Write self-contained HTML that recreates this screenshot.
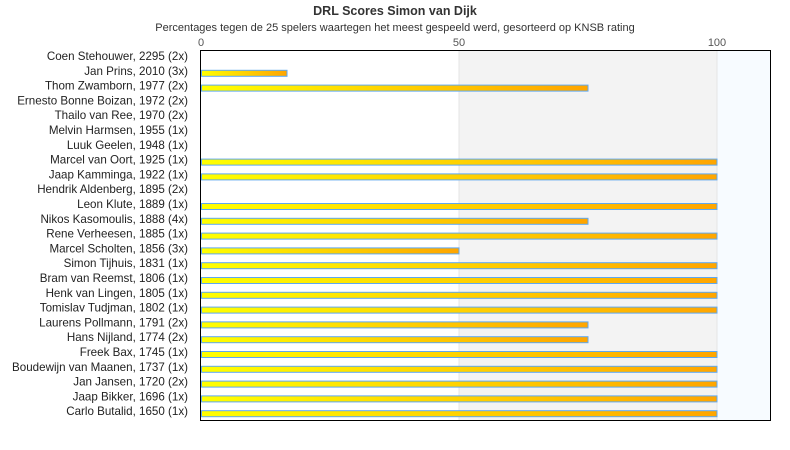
<!DOCTYPE html>
<html><head><meta charset="utf-8"><style>
html,body{margin:0;padding:0;background:#fff;}
svg{display:block;font-family:"Liberation Sans","DejaVu Sans",sans-serif;}
</style></head><body>
<svg width="790" height="450" xmlns="http://www.w3.org/2000/svg">
<defs>
<linearGradient id="g" x1="0" x2="1" y1="0" y2="0"><stop offset="0" stop-color="#ffff00"/><stop offset="1" stop-color="#ffa500"/></linearGradient>
</defs>
<text x="395" y="15" text-anchor="middle" font-size="12.5" font-weight="bold" fill="#333">DRL Scores Simon van Dijk</text>
<text x="395" y="31" text-anchor="middle" font-size="11" fill="#333">Percentages tegen de 25 spelers waartegen het meest gespeeld werd, gesorteerd op KNSB rating</text>
<rect x="459" y="50" width="258" height="370" fill="#f3f3f3"/>
<rect x="717" y="50" width="53" height="370" fill="#f7fbff"/>
<line x1="459" y1="50" x2="459" y2="420" stroke="#e4e4e4"/>
<line x1="717" y1="50" x2="717" y2="420" stroke="#e4e4e4"/>
<text x="201" y="46" text-anchor="middle" font-size="11" fill="#555">0</text>
<text x="459" y="46" text-anchor="middle" font-size="11" fill="#555">50</text>
<text x="717" y="46" text-anchor="middle" font-size="11" fill="#555">100</text>
<g font-size="11.6" fill="#222" text-anchor="end" id="labels"></g>
<g id="bars"></g>
<rect x="200.5" y="50.5" width="570" height="370" fill="none" stroke="#000" stroke-width="1"/>
<script>
var d=[["Coen Stehouwer, 2295 (2x)",0],["Jan Prins, 2010 (3x)",16.67],["Thom Zwamborn, 1977 (2x)",75],["Ernesto Bonne Boizan, 1972 (2x)",0],["Thailo van Ree, 1970 (2x)",0],["Melvin Harmsen, 1955 (1x)",0],["Luuk Geelen, 1948 (1x)",0],["Marcel van Oort, 1925 (1x)",100],["Jaap Kamminga, 1922 (1x)",100],["Hendrik Aldenberg, 1895 (2x)",0],["Leon Klute, 1889 (1x)",100],["Nikos Kasomoulis, 1888 (4x)",75],["Rene Verheesen, 1885 (1x)",100],["Marcel Scholten, 1856 (3x)",50],["Simon Tijhuis, 1831 (1x)",100],["Bram van Reemst, 1806 (1x)",100],["Henk van Lingen, 1805 (1x)",100],["Tomislav Tudjman, 1802 (1x)",100],["Laurens Pollmann, 1791 (2x)",75],["Hans Nijland, 1774 (2x)",75],["Freek Bax, 1745 (1x)",100],["Boudewijn van Maanen, 1737 (1x)",100],["Jan Jansen, 1720 (2x)",100],["Jaap Bikker, 1696 (1x)",100],["Carlo Butalid, 1650 (1x)",100]];
var ns="http://www.w3.org/2000/svg",L=document.getElementById("labels"),B=document.getElementById("bars");
d.forEach(function(r,i){var t=document.createElementNS(ns,"text");t.setAttribute("x",188);t.setAttribute("y",60+14.8*i);t.textContent=r[0];L.appendChild(t);
if(r[1]>0){var b=document.createElementNS(ns,"rect");b.setAttribute("x",201.5);b.setAttribute("y",55.5+14.8*i);b.setAttribute("width",r[1]*5.16-0.5);b.setAttribute("height",6);b.setAttribute("fill","url(#g)");b.setAttribute("stroke","#5fa8f0");b.setAttribute("stroke-width","1");B.appendChild(b);}});
</script>
</svg>
</body></html>
